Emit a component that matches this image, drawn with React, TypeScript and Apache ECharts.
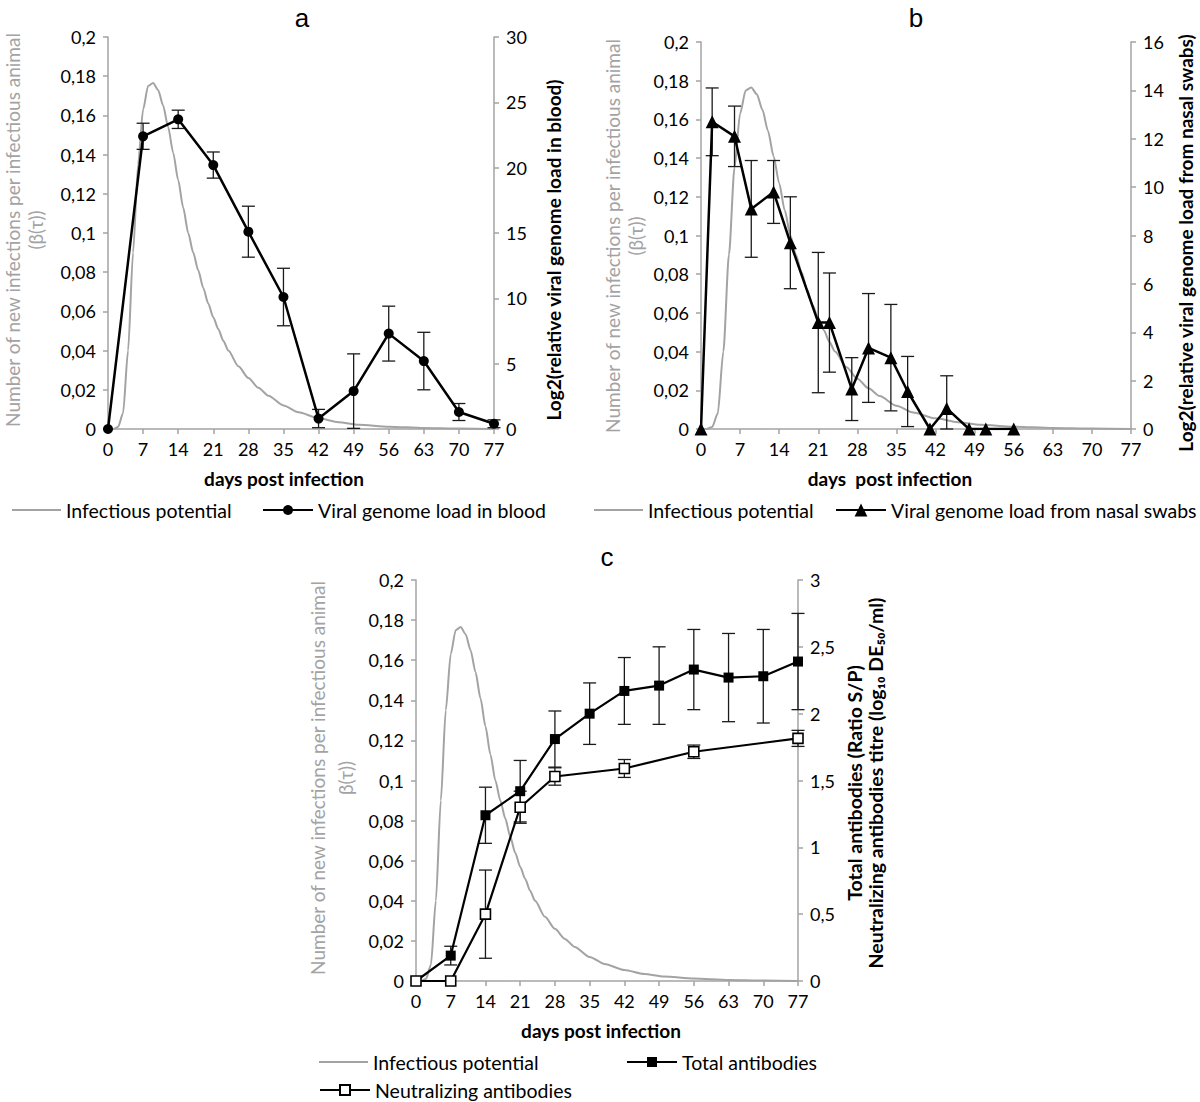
import React, { useEffect, useRef } from 'react';
import * as echarts from 'echarts';

// ---------- data ----------
const dayTicks = [0, 7, 14, 21, 28, 35, 42, 49, 56, 63, 70, 77];

// Infectious potential β(τ) curve (same model curve in the 3 panels)
const ipDays = [0, 1, 2, 3, 4, 5, 6, 7, 8, 9, 10, 11, 12, 13, 14, 15, 16, 17, 18, 19, 20, 21, 22, 23, 24, 26, 28, 30, 32, 35, 38, 42, 46, 50, 56, 63, 70, 77];
const ipValues = [0, 0, 0.001, 0.008, 0.04, 0.09, 0.135, 0.163, 0.175, 0.1765, 0.173, 0.165, 0.154, 0.141, 0.127, 0.113, 0.1, 0.09, 0.081, 0.072, 0.064, 0.057, 0.051, 0.045, 0.04, 0.032, 0.026, 0.021, 0.017, 0.012, 0.0085, 0.0055, 0.0035, 0.0022, 0.0012, 0.0005, 0.0002, 0];

// panel a: viral genome load in blood
const bloodDays = [0, 7, 14, 21, 28, 35, 42, 49, 56, 63, 70, 77];
const bloodLoad = [0, 22.4, 23.7, 20.2, 15.1, 10.1, 0.8, 2.9, 7.3, 5.2, 1.3, 0.4];
const bloodErr = [0, 1.0, 0.7, 1.0, 1.95, 2.2, 0.7, 2.85, 2.1, 2.2, 0.65, 0.3];

// panel b: viral genome load from nasal swabs
const nasalDays = [0, 2, 6, 9, 13, 16, 21, 23, 27, 30, 34, 37, 41, 44, 48, 51, 56];
const nasalLoad = [0, 12.7, 12.1, 9.1, 9.8, 7.7, 4.4, 4.4, 1.65, 3.35, 2.95, 1.55, 0, 0.85, 0, 0, 0];
const nasalErr = [0, 1.4, 1.25, 2.0, 1.3, 1.9, 2.9, 2.05, 1.3, 2.25, 2.2, 1.45, 0, 1.35, 0, 0, 0];

// panel c: antibodies
const totalDays = [0, 7, 14, 21, 28, 35, 42, 49, 56, 63, 70, 77];
const totalAb = [0, 0.19, 1.24, 1.42, 1.81, 2.0, 2.17, 2.21, 2.33, 2.27, 2.28, 2.39];
const totalErr = [0, 0.07, 0.21, 0.23, 0.21, 0.23, 0.25, 0.29, 0.3, 0.33, 0.35, 0.36];

const neutDays = [0, 7, 14, 21, 28, 42, 56, 77];
const neutAb = [0, 0, 0.5, 1.3, 1.53, 1.59, 1.715, 1.815];
const neutErr = [0, 0, 0.33, 0.12, 0.065, 0.067, 0.05, 0.06];

// axis ranges
const betaMax = 0.2, betaStep = 0.02;
const bloodMax = 30, bloodStep = 5;
const nasalMax = 16, nasalStep = 2;
const abMax = 3, abStep = 0.5;

// ---------- styling ----------
const GREY = '#a3a3a3';
const FONT = 'Lato, "Open Sans", sans-serif';

const comma = (v: number) => String(Math.round(v * 1000) / 1000).replace('.', ',');

const xAxis = (gridIndex: number) => ({
  type: 'value', gridIndex, min: dayTicks[0], max: dayTicks[dayTicks.length - 1], interval: dayTicks[1] - dayTicks[0],
  axisLine: { show: true, onZero: false, lineStyle: { color: GREY, width: 1.5 } },
  axisTick: { show: true, length: 5, lineStyle: { color: GREY, width: 1.5 } },
  axisLabel: { color: '#000', fontSize: 18, fontFamily: FONT, margin: 11 },
  splitLine: { show: false },
});

const yAxis = (gridIndex: number, position: string, max: number, interval: number) => ({
  type: 'value', gridIndex, position, min: 0, max, interval,
  axisLine: { show: true, onZero: false, lineStyle: { color: GREY, width: 1.5 } },
  axisTick: { show: true, length: 5, lineStyle: { color: GREY, width: 1.5 } },
  axisLabel: { color: '#000', fontSize: 18, fontFamily: FONT, margin: 12, formatter: comma },
  splitLine: { show: false },
});

const errRender = (params: any, api: any) => {
  const x = api.value(0), lo = api.value(1), hi = api.value(2);
  const a = api.coord([x, lo]);
  const b = api.coord([x, hi]);
  const w = 6.5;
  const style = { stroke: '#1a1a1a', lineWidth: 1.3 };
  return {
    type: 'group',
    children: [
      { type: 'line', shape: { x1: a[0], y1: a[1], x2: b[0], y2: b[1] }, style },
      { type: 'line', shape: { x1: a[0] - w, y1: a[1], x2: a[0] + w, y2: a[1] }, style },
      { type: 'line', shape: { x1: b[0] - w, y1: b[1], x2: b[0] + w, y2: b[1] }, style },
    ],
  };
};

const errData = (days: number[], vals: number[], errs: number[]) =>
  days.map((d, i) => [d, Math.max(0, vals[i] - errs[i]), vals[i] + errs[i]]).filter((_, i) => errs[i] > 0);

const ipSeries = (xi: number, yi: number) => ({
  type: 'line', name: 'Infectious potential', xAxisIndex: xi, yAxisIndex: yi,
  data: ipDays.map((d, i) => [d, ipValues[i]]),
  smooth: 0.25, smoothMonotone: 'x', symbol: 'none',
  lineStyle: { color: GREY, width: 2 }, itemStyle: { color: GREY }, z: 2,
});

const errSeries = (name: string, xi: number, yi: number, data: any[]) => ({
  type: 'custom', name, xAxisIndex: xi, yAxisIndex: yi, renderItem: errRender, data, z: 3,
  encode: { x: 0, y: [1, 2] },
});

const LEG_TEXT = { color: '#000', fontSize: 19.5, fontFamily: FONT, lineHeight: 22 };

const legend = (name: string, left: number, top: number, itemHeight: number) => ({
  data: [name], left, top, padding: 0, itemWidth: 50, itemHeight, selectedMode: false,
  textStyle: LEG_TEXT,
});

const lineLegend = (name: string, left: number, top: number) => ({
  data: [{ name, icon: 'rect' }], left, top, padding: 0, itemWidth: 49, itemHeight: 2, selectedMode: false,
  textStyle: LEG_TEXT,
});

const txt = (text: string, x: number, y: number, font: string, color = '#000', rotation = 0, lineHeight = 22) => ({
  type: 'text', x, y, rotation, silent: true,
  style: { text, font, fill: color, textAlign: 'center', textVerticalAlign: 'middle', lineHeight },
});

const option: any = {
  animation: false,
  backgroundColor: '#fff',
  grid: [
    { left: 108, top: 37, width: 386, height: 392 },
    { left: 701, top: 42, width: 430, height: 387 },
    { left: 416, top: 580, width: 382, height: 401 },
  ],
  xAxis: [xAxis(0), xAxis(1), xAxis(2)],
  yAxis: [
    yAxis(0, 'left', betaMax, betaStep),
    yAxis(0, 'right', bloodMax, bloodStep),
    yAxis(1, 'left', betaMax, betaStep),
    yAxis(1, 'right', nasalMax, nasalStep),
    yAxis(2, 'left', betaMax, betaStep),
    yAxis(2, 'right', abMax, abStep),
  ],
  legend: [
    lineLegend('Infectious potential', 12, 499),
    legend('Viral genome load in blood', 262, 499, 12.5),
    lineLegend('Infectious potential', 594, 499),
    legend('Viral genome load from nasal swabs', 835, 499, 16),
    lineLegend('Infectious potential', 319, 1051),
    legend('Total antibodies', 626, 1051, 12.5),
    legend('Neutralizing antibodies', 319, 1079, 12.5),
  ],
  series: [
    // panel a
    ipSeries(0, 0),
    errSeries('err-blood', 0, 1, errData(bloodDays, bloodLoad, bloodErr)),
    {
      type: 'line', name: 'Viral genome load in blood', xAxisIndex: 0, yAxisIndex: 1,
      data: bloodDays.map((d, i) => [d, bloodLoad[i]]),
      symbol: 'circle', symbolSize: 10,
      lineStyle: { color: '#000', width: 2.5 }, itemStyle: { color: '#000' }, z: 5,
    },
    // panel b
    ipSeries(1, 2),
    errSeries('err-nasal', 1, 3, errData(nasalDays, nasalLoad, nasalErr)),
    {
      type: 'line', name: 'Viral genome load from nasal swabs', xAxisIndex: 1, yAxisIndex: 3,
      data: nasalDays.map((d, i) => [d, nasalLoad[i]]),
      symbol: 'triangle', symbolSize: 13,
      lineStyle: { color: '#000', width: 2.5 }, itemStyle: { color: '#000' }, z: 5,
    },
    // panel c
    ipSeries(2, 4),
    errSeries('err-total', 2, 5, errData(totalDays, totalAb, totalErr)),
    errSeries('err-neut', 2, 5, errData(neutDays, neutAb, neutErr)),
    {
      type: 'line', name: 'Total antibodies', xAxisIndex: 2, yAxisIndex: 5,
      data: totalDays.map((d, i) => [d, totalAb[i]]),
      symbol: 'rect', symbolSize: 10,
      lineStyle: { color: '#000', width: 2.2 }, itemStyle: { color: '#000' }, z: 5,
    },
    {
      type: 'line', name: 'Neutralizing antibodies', xAxisIndex: 2, yAxisIndex: 5,
      data: neutDays.map((d, i) => [d, neutAb[i]]),
      symbol: 'rect', symbolSize: 10,
      lineStyle: { color: '#000', width: 2.2 },
      itemStyle: { color: '#fff', borderColor: '#000', borderWidth: 1.6 }, z: 6,
    },
  ],
  graphic: [
    txt('a', 302, 18, '26px "Liberation Sans", Arial, sans-serif'),
    txt('b', 916, 18, '26px "Liberation Sans", Arial, sans-serif'),
    txt('c', 607, 557, '26px "Liberation Sans", Arial, sans-serif'),
    // x titles
    txt('days post infection', 284, 478, `bold 19px ${FONT}`),
    txt('days  post infection', 890, 478, `bold 19px ${FONT}`),
    txt('days post infection', 601, 1030, `bold 19px ${FONT}`),
    // left titles
    txt('Number of new infections per infectious animal\n(β(τ))', 24, 230, `19px ${FONT}`, GREY, Math.PI / 2, 23),
    txt('Number of new infections per infectious animal\n(β(τ))', 624, 236, `19px ${FONT}`, GREY, Math.PI / 2, 23),
    txt('Number of new infections per infectious animal\nβ(τ))', 331, 778, `19px ${FONT}`, GREY, Math.PI / 2, 28),
    // right titles
    txt('Log2(relative viral genome load in blood)', 553, 250, `bold 19px ${FONT}`, '#000', Math.PI / 2),
    txt('Log2(relative viral genome load from nasal swabs)', 1185, 243, `bold 19px ${FONT}`, '#000', Math.PI / 2),
    txt('Total antibodies (Ratio S/P)\nNeutralizing antibodies titre (log₁₀ DE₅₀/ml)', 865, 783, `bold 19.5px ${FONT}`, '#000', Math.PI / 2, 21),
  ],
};

export default function App() {
  const ref = useRef<HTMLDivElement>(null);
  useEffect(() => {
    const chart = echarts.init(ref.current as HTMLDivElement, null, { renderer: 'svg' });
    chart.setOption(option);
    return () => chart.dispose();
  }, []);
  return (
    <div
      ref={ref}
      style={{ position: 'absolute', left: 0, top: 0, width: 1200, height: 1102, background: '#fff' }}
    />
  );
}
